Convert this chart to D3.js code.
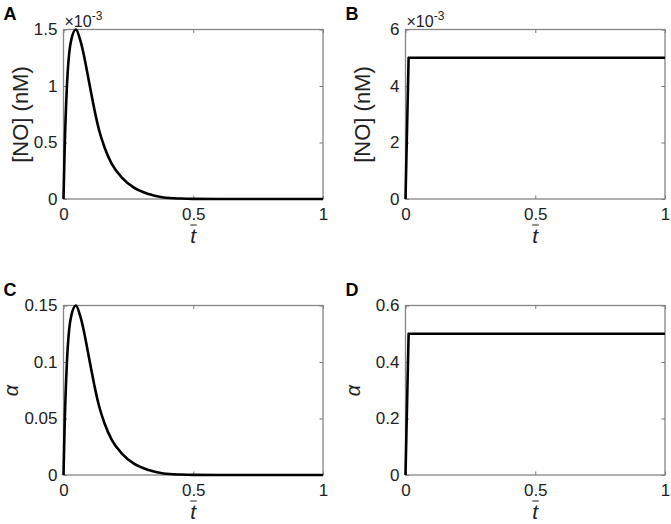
<!DOCTYPE html>
<html>
<head>
<meta charset="utf-8">
<script src="https://cdn.jsdelivr.net/npm/d3@7"></script>
<style>
  body { margin: 0; background: #fff; }
  svg text { font-family: "Liberation Sans", Arial, sans-serif; fill: #222; }
</style>
</head>
<body>
<div id="chart"></div>
<script>
/*Data*/
var tPulse = [0, 0.004, 0.013, 0.022, 0.030, 0.048, 0.064, 0.077, 0.094, 0.109, 0.122, 0.1375, 0.158, 0.186, 0.225, 0.27, 0.328, 0.385, 0.45, 0.5, 0.6, 0.8, 1.0];
var noPulse = [0, 0.40, 0.99, 1.29, 1.41, 1.50, 1.41, 1.29, 1.09, 0.91, 0.76, 0.606, 0.458, 0.31, 0.19, 0.103, 0.044, 0.014, 0.004, 0.001, 0.0002, 0, 0];   // x 1e-3 nM
var alphaPulse = [0, 0.040, 0.099, 0.129, 0.141, 0.150, 0.141, 0.129, 0.109, 0.091, 0.076, 0.0606, 0.0458, 0.031, 0.019, 0.0103, 0.0044, 0.0014, 0.0004, 0.0001, 0.00002, 0, 0];

var tStep = [0, 0.012, 1];
var noStep = [0, 5, 5];          // x 1e-3 nM
var alphaStep = [0, 0.5, 0.5];

var xTicks = [0, 0.5, 1];
var yTicksA = [0, 0.5, 1, 1.5];
var yTicksB = [0, 2, 4, 6];
var yTicksC = [0, 0.05, 0.1, 0.15];
var yTicksD = [0, 0.2, 0.4, 0.6];

/*SVG Size*/
var width = 671;
var height = 524;

var svg = d3.select("#chart").append("svg")
            .attr("width", width)
            .attr("height", height);

function panel(opt) {
  var x = d3.scaleLinear().domain([0, 1]).range([opt.left, opt.left + 259.5]);
  var y = d3.scaleLinear().domain([0, opt.ymax]).range([opt.top + 169.5, opt.top]);
  var g = svg.append("g");

  // panel letter
  g.append("text")
   .attr("x", opt.left - 60)
   .attr("y", opt.top - 10)
   .attr("font-size", 18)
   .attr("font-weight", "bold")
   .style("fill", "#000")
   .text(opt.letter);

  // inward ticks on all four sides (box on)
  var tl = 3.5;
  g.append("g").attr("transform", "translate(0," + y(0) + ")")
   .call(d3.axisBottom(x).tickValues(xTicks).tickSizeInner(-tl).tickSizeOuter(0).tickPadding(9).tickFormat(d3.format("")));
  g.append("g").attr("transform", "translate(0," + y(opt.ymax) + ")")
   .call(d3.axisTop(x).tickValues(xTicks).tickSizeInner(-tl).tickSizeOuter(0).tickFormat(""));
  g.append("g").attr("transform", "translate(" + x(0) + ",0)")
   .call(d3.axisLeft(y).tickValues(opt.yTicks).tickSizeInner(-tl).tickSizeOuter(0).tickPadding(6).tickFormat(d3.format("")));
  g.append("g").attr("transform", "translate(" + x(1) + ",0)")
   .call(d3.axisRight(y).tickValues(opt.yTicks).tickSizeInner(-tl).tickSizeOuter(0).tickFormat(""));

  g.selectAll(".domain").remove();
  g.selectAll(".tick line").attr("stroke", "#777");
  g.selectAll(".tick text").attr("font-size", 17).attr("font-family", "Liberation Sans, Arial, sans-serif").style("fill", "#222");

  // box
  g.append("rect")
   .attr("x", x(0)).attr("y", y(opt.ymax))
   .attr("width", x(1) - x(0)).attr("height", y(0) - y(opt.ymax))
   .attr("fill", "none")
   .attr("stroke", "#858585")
   .attr("stroke-width", 1.3);

  // curve
  var pts = opt.t.map(function(d, i){ return [d, opt.v[i]]; });
  g.append("path")
   .datum(pts)
   .attr("d", d3.line().x(function(d){ return x(d[0]); }).y(function(d){ return y(d[1]); }).curve(opt.curve))
   .attr("fill", "none")
   .attr("stroke", "#000")
   .attr("stroke-width", 2.6)
   .attr("stroke-linejoin", "round");

  // x label: t with overbar
  var xm = x(0.5);
  g.append("text")
   .attr("x", xm).attr("y", opt.top + 213)
   .attr("text-anchor", "middle")
   .attr("font-family", "DejaVu Serif, Liberation Serif, serif")
   .attr("font-style", "italic")
   .attr("font-size", 21)
   .style("fill", "#222")
   .text("t");
  g.append("line")
   .attr("x1", xm - 3).attr("x2", xm + 3.5)
   .attr("y1", opt.top + 195.5).attr("y2", opt.top + 195.5)
   .attr("stroke", "#222").attr("stroke-width", 1);

  // y label
  var yl = g.append("text")
   .attr("transform", "translate(" + (opt.left - 35.5) + "," + (opt.top + 85) + ") rotate(-90)")
   .attr("text-anchor", "middle");
  if (opt.ylabel === "alpha") {
    yl.attr("font-family", "DejaVu Serif, Liberation Serif, serif")
      .attr("font-style", "italic")
      .attr("font-size", 20)
      .attr("transform", "translate(" + (opt.left - 45.5) + "," + (opt.top + 85) + ") rotate(-90)")
      .text("\u03B1");
  } else {
    yl.attr("font-size", 22).text(opt.ylabel);
  }

  // exponent
  if (opt.exp) {
    var e = g.append("text")
     .attr("x", x(0) + 1)
     .attr("y", opt.top - 3)
     .attr("font-size", 16);
    e.append("tspan").text("\u00D710");
    e.append("tspan").attr("dy", -7).attr("font-size", 12).text("-3");
  }
}

panel({letter: "A", left: 63.5, top: 29.5, ymax: 1.5, yTicks: yTicksA, t: tPulse, v: noPulse, curve: d3.curveMonotoneX, ylabel: "[NO] (nM)", exp: true});
panel({letter: "B", left: 405.5, top: 29.5, ymax: 6, yTicks: yTicksB, t: tStep, v: noStep, curve: d3.curveLinear, ylabel: "[NO] (nM)", exp: true});
panel({letter: "C", left: 63.5, top: 305.5, ymax: 0.15, yTicks: yTicksC, t: tPulse, v: alphaPulse, curve: d3.curveMonotoneX, ylabel: "alpha", exp: false});
panel({letter: "D", left: 405.5, top: 305.5, ymax: 0.6, yTicks: yTicksD, t: tStep, v: alphaStep, curve: d3.curveLinear, ylabel: "alpha", exp: false});
</script>
</body>
</html>
